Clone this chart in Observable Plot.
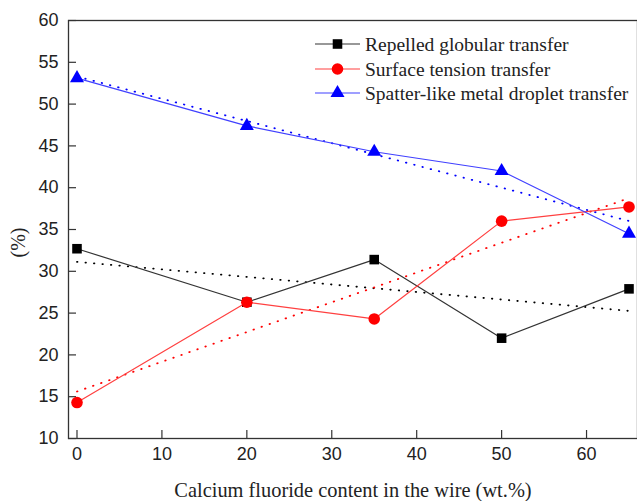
<!DOCTYPE html>
<html><head><meta charset="utf-8">
<script src="https://cdn.jsdelivr.net/npm/d3@7"></script>
<script src="https://cdn.jsdelivr.net/npm/@observablehq/plot@0.6"></script>
<style>
html,body{margin:0;padding:0;background:#fff;}
#wrap{position:relative;width:637px;height:501px;}
#legend{position:absolute;left:0;top:0;pointer-events:none;}
</style></head><body><div id="wrap"></div>
<script>
const content = [0, 20, 35, 50, 65];
const seriesNames = ["Repelled globular transfer", "Surface tension transfer", "Spatter-like metal droplet transfer"];
const repelled = [32.7, 26.3, 31.4, 22.0, 27.9];
const surface = [14.3, 26.3, 24.3, 36.0, 37.7];
const spatter = [53.1, 47.4, 44.3, 42.0, 34.5];
const xTicks = [0, 10, 20, 30, 40, 50, 60];
const yTicks = [10, 15, 20, 25, 30, 35, 40, 45, 50, 55, 60];
const xLabel = "Calcium fluoride content in the wire (wt.%)";
const yLabel = "(%)";

const lineColors = ["#333333", "#ff4040", "#4040ff"];
const markColors = ["#000000", "#ff0000", "#0000ff"];
const symbols = ["square", "circle", "triangle"];
const radii = [5.4, 5.8, 5.2];
const sans = "'Liberation Sans', Arial, sans-serif";
const serif = "'Liberation Serif', 'Times New Roman', serif";

const valuesList = [repelled, surface, spatter];
const rows = valuesList.map((vals, i) => vals.map((v, j) => ({x: content[j], y: v, s: seriesNames[i]})));

const marks = [];
rows.forEach((data, i) => {
  marks.push(Plot.linearRegressionY(data, {x: "x", y: "y", ci: 0, stroke: markColors[i], strokeWidth: 1.8, strokeDasharray: "0.5,8", strokeLinecap: "round"}));
});
rows.forEach((data, i) => {
  marks.push(Plot.line(data, {x: "x", y: "y", stroke: lineColors[i], strokeWidth: 1.2}));
});
rows.forEach((data, i) => {
  marks.push(Plot.dot(data, {x: "x", y: "y", symbol: symbols[i], fill: markColors[i], r: radii[i], stroke: "none"}));
});

const chart = Plot.plot({
  width: 637,
  height: 501,
  marginLeft: 68,
  marginRight: 0,
  marginTop: 20,
  marginBottom: 63,
  style: {background: "#fff", overflow: "visible"},
  x: {domain: [-1, 66]},
  y: {domain: [10, 60]},
  marks: [
    Plot.frame({stroke: "#333", strokeWidth: 1.3}),
    Plot.axisY({ticks: yTicks, tickSize: -8, tickFormat: () => "", stroke: "#333", strokeWidth: 1.2, label: null}),
    Plot.axisY({ticks: yTicks, tickSize: 0, tickPadding: 10, fontSize: 18, fontFamily: sans, fill: "#222", label: null}),
    Plot.axisX({ticks: xTicks, tickSize: -8, tickFormat: () => "", stroke: "#333", strokeWidth: 1.2, label: null}),
    Plot.axisX({ticks: xTicks, tickSize: 0, tickPadding: 9, fontSize: 18, fontFamily: sans, fill: "#222", label: null}),
    Plot.text([xLabel], {frameAnchor: "bottom", dy: 52, fontSize: 20.4, fontFamily: serif, fill: "#222", lineAnchor: "middle"}),
    Plot.text([yLabel], {frameAnchor: "left", dx: -50, dy: 28, rotate: -90, fontSize: 20, fontFamily: serif, fill: "#222", lineAnchor: "middle"}),
    ...marks
  ]
});
const wrap = document.getElementById("wrap");
wrap.appendChild(chart);

// legend overlay
const leg = d3.select(wrap).append("svg").attr("id", "legend").attr("width", 637).attr("height", 120);
const rowY = [44, 69, 93];
seriesNames.forEach((name, i) => {
  const g = leg.append("g").attr("transform", `translate(0,${rowY[i]})`);
  g.append("line").attr("x1", 315).attr("x2", 360).attr("y1", 0).attr("y2", 0).attr("stroke", lineColors[i]).attr("stroke-width", 1.2);
  const sym = {square: d3.symbolSquare, circle: d3.symbolCircle, triangle: d3.symbolTriangle}[symbols[i]];
  g.append("path").attr("transform", "translate(337.5,0)").attr("d", d3.symbol(sym, Math.PI * radii[i] * radii[i])()).attr("fill", markColors[i]);
  g.append("text").attr("x", 365).attr("y", 0).attr("dy", "0.35em").attr("font-family", serif).attr("font-size", 19.5).attr("fill", "#222").text(name);
});
</script></body></html>
